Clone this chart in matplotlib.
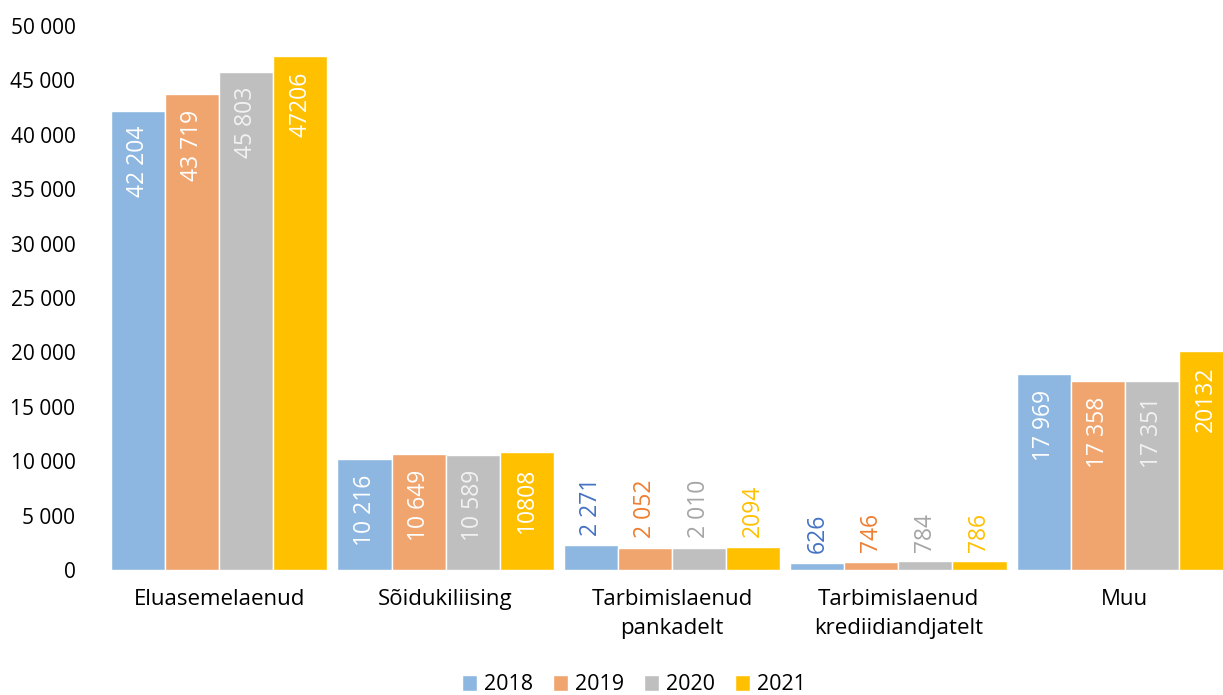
import matplotlib
matplotlib.use("Agg")
import matplotlib.pyplot as plt
import numpy as np

categories = ["Eluasemelaenud", "Sõidukiliising", "Tarbimislaenud\npankadelt",
              "Tarbimislaenud\nkrediidiandjatelt", "Muu"]
years = ["2018", "2019", "2020", "2021"]
values = {
    "2018": [42204, 10216, 2271, 626, 17969],
    "2019": [43719, 10649, 2052, 746, 17358],
    "2020": [45803, 10589, 2010, 784, 17351],
    "2021": [47206, 10808, 2094, 786, 20132],
}
label_texts = {
    "2018": ["42 204", "10 216", "2 271", "626", "17 969"],
    "2019": ["43 719", "10 649", "2 052", "746", "17 358"],
    "2020": ["45 803", "10 589", "2 010", "784", "17 351"],
    "2021": ["47206", "10808", "2094", "786", "20132"],
}
yticks = [0, 5000, 10000, 15000, 20000, 25000, 30000, 35000, 40000, 45000, 50000]
ytick_labels = ["0", "5 000", "10 000", "15 000", "20 000", "25 000", "30 000",
                "35 000", "40 000", "45 000", "50 000"]

bar_colors = ["#8DB7E1", "#F1A56E", "#BFBFBF", "#FFC000"]
out_label_colors = ["#4472C4", "#ED7D31", "#A5A5A5", "#FFC000"]
in_label_colors = ["#FFFFFF", "#FFFFFF", "#F2F2F2", "#FFFFFF"]

plt.rcParams['font.family'] = ['Open Sans', 'DejaVu Sans']

W, H = 1223, 695
fig = plt.figure(figsize=(W / 100, H / 100), dpi=100)
left_px, right_px = 106, 1238
top_px, bot_px = 26, 570
ax = fig.add_axes([left_px / W, (H - bot_px) / H, (right_px - left_px) / W, (bot_px - top_px) / H])

x = np.arange(len(categories))
bw = 0.955 / 4
for i, y in enumerate(years):
    pos = x - 0.955 / 2 + bw * (i + 0.5)
    bars = ax.bar(pos, values[y], width=bw, color=bar_colors[i], edgecolor="white",
                  linewidth=1.0, label=y, zorder=2)
    for j, (b, v) in enumerate(zip(bars, values[y])):
        cx = b.get_x() + b.get_width() / 2
        if v > 8000:
            ax.annotate(label_texts[y][j], (cx, v), xytext=(0, -11), textcoords="offset points",
                        rotation=90, ha="center", va="top", color=in_label_colors[i],
                        fontsize=16.5)
        else:
            ax.annotate(label_texts[y][j], (cx, v), xytext=(0, 7), textcoords="offset points",
                        rotation=90, ha="center", va="bottom", color=out_label_colors[i],
                        fontsize=16.5)

ax.set_ylim(0, 50000)
ax.set_xlim(-0.5, len(categories) - 0.5)
ax.set_yticks(yticks)
ax.set_yticklabels(ytick_labels, fontsize=15, color="#000000")
ax.set_xticks(x)
ax.set_xticklabels(categories, fontsize=16, color="#000000", linespacing=1.45)
ax.tick_params(axis="both", length=0)
ax.tick_params(axis="y", pad=22)
ax.tick_params(axis="x", pad=14)
for s in ax.spines.values():
    s.set_visible(False)

leg = fig.legend(loc="center", bbox_to_anchor=(634 / W, (H - 685) / H), ncol=4, frameon=False,
                 fontsize=15.5, handlelength=0.7, handleheight=0.7, handletextpad=0.3,
                 columnspacing=0.95)

fig.savefig("out.png", dpi=100)
